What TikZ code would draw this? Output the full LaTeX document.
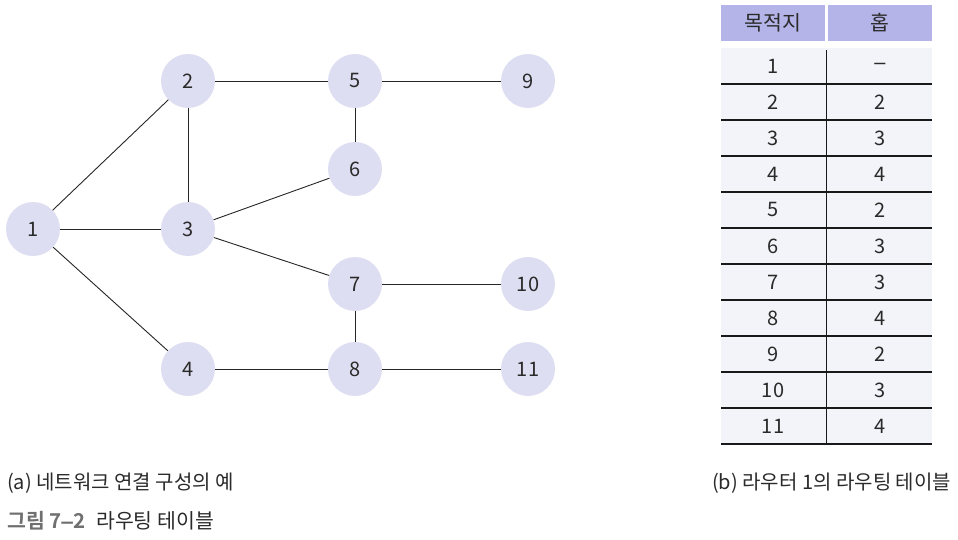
\documentclass[tikz,border=0pt]{standalone}
\usepackage{fontspec}
\setmainfont{Noto Sans CJK KR}[BoldFont={Noto Sans CJK KR Bold}]
\newfontfamily\herosfont{TeX Gyre Heros}
\definecolor{nodefill}{HTML}{DEDEF2}
\definecolor{headfill}{HTML}{B4B4E8}
\definecolor{bodyfill}{HTML}{F3F4F9}
\definecolor{txt}{HTML}{2A2A2A}
\definecolor{figgray}{HTML}{707070}
\begin{document}
\begin{tikzpicture}[x=1pt,y=-1pt,
  router/.style={circle,fill=nodefill,minimum size=54pt,inner sep=0pt,font=\fontsize{20}{20}\selectfont,text=txt},
  link/.style={draw=black!85,line width=0.9pt},
  cell/.style={font=\fontsize{20}{20}\selectfont,text=txt,inner sep=0pt},
  head/.style={fill=headfill,inner sep=0pt,font=\fontsize{20.5}{20}\selectfont,text=txt},
  rule/.style={draw=black!90,line width=1.1pt},
  captext/.style={anchor=west,inner sep=0pt,font=\fontsize{20}{20}\selectfont,text=txt}]
\useasboundingbox (0,0) rectangle (958,540);
% graph
\node[router] (n1) at (33,229) {1};
\node[router] (n2) at (188,81) {2};
\node[router] (n3) at (188,229) {3};
\node[router] (n4) at (188,369) {4};
\node[router] (n5) at (355,81) {5};
\node[router] (n6) at (355,169) {6};
\node[router] (n7) at (355,284) {7};
\node[router] (n8) at (355,369) {8};
\node[router] (n9) at (528,81) {9};
\node[router] (n10) at (528,284) {10};
\node[router] (n11) at (528,369) {11};
\foreach \a/\b in {n1/n2,n1/n3,n1/n4,n2/n3,n2/n5,n5/n9,n5/n6,n3/n6,n3/n7,n7/n10,n7/n8,n4/n8,n8/n11}
  \draw[link] (\a) -- (\b);
% table
\node[head,minimum width=104pt,minimum height=36pt] (h1) at (773,23) {목적지};
\node[head,minimum width=104pt,minimum height=36pt] (h2) at (880,23) {홉};
\fill[bodyfill] (721,48) rectangle (932,444);
\foreach \y in {84,120,...,444} \draw[rule] (721,\y) -- (932,\y);
\draw[rule] (826.5,50) -- (826.5,444);
\foreach \d/\h [count=\i] in {1/{\herosfont –},2/2,3/3,4/4,5/2,6/3,7/3,8/4,9/2,10/3,11/4}{
  \node[cell] (d\i) at (773,{66+36*(\i-1)}) {\d};
  \node[cell] (p\i) at (880,{66+36*(\i-1)}) {\h};
}
% captions
\node[captext] (capa) at (7,483) {(a) 네트워크 연결 구성의 예};
\node[captext] (capb) at (712,483) {(b) 라우터 1의 라우팅 테이블};
\node[captext,font=\fontsize{20.5}{20}\selectfont] (fig) at (7,521) {{\bfseries\color{figgray}그림 7{\herosfont\bfseries –}2}\hspace{11pt}라우팅 테이블};
\end{tikzpicture}
\end{document}
